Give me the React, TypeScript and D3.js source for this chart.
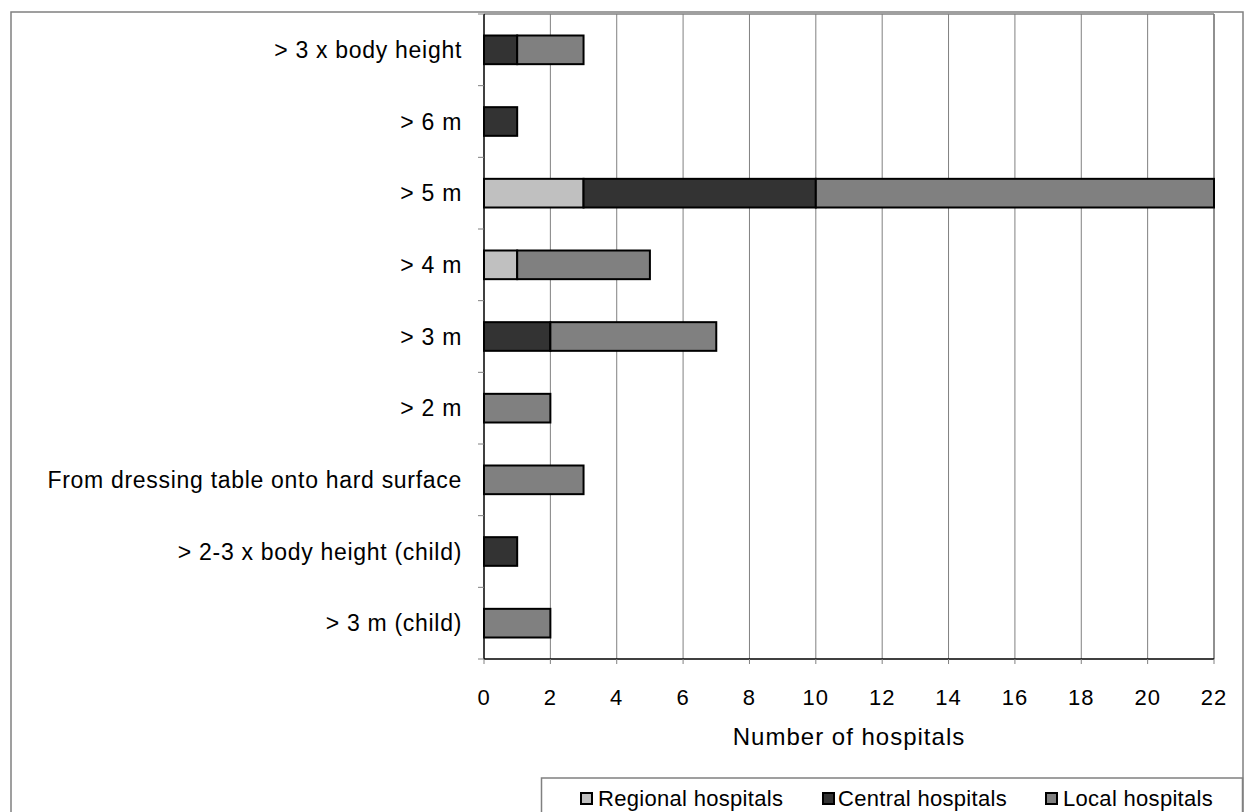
import React from "react";
import * as d3 from "d3";

const categories = [
  "> 3 x body height",
  "> 6 m",
  "> 5 m",
  "> 4 m",
  "> 3 m",
  "> 2 m",
  "From dressing table onto hard surface",
  "> 2-3 x body height (child)",
  "> 3 m (child)",
];
const regional = [0, 0, 3, 1, 0, 0, 0, 0, 0];
const central = [1, 1, 7, 0, 2, 0, 0, 1, 0];
const local = [2, 0, 12, 4, 5, 2, 3, 0, 2];
const seriesNames = ["Regional hospitals", "Central hospitals", "Local hospitals"];
const seriesColors = ["#C0C0C0", "#333333", "#808080"];
const xTicks = [0, 2, 4, 6, 8, 10, 12, 14, 16, 18, 20, 22];
const xTitle = "Number of hospitals";

const W = 1247;
const H = 812;
const plot = { left: 484, right: 1214, top: 14, bottom: 659 };
const FONT = "'Liberation Sans', Arial, sans-serif";

export default function App() {
  const x = d3.scaleLinear().domain([0, 22]).range([plot.left, plot.right]);
  const y = d3
    .scaleBand<string>()
    .domain(categories)
    .range([plot.top, plot.bottom])
    .paddingInner(0.6)
    .paddingOuter(0.3);
  const step = y.step();
  const bandStart = (c: string) => (y(c) as number) - step * 0.3;

  const rows = categories.map((c, i) => ({
    cat: c,
    r: regional[i],
    c: central[i],
    l: local[i],
  }));
  const stack = d3.stack<any>().keys(["r", "c", "l"]);
  const layers = stack(rows);

  const boundaries = d3.range(categories.length + 1).map((i) => plot.top + i * step);

  const legendItems = [
    { sx: 580, tx: 598 },
    { sx: 822, tx: 838 },
    { sx: 1045, tx: 1063 },
  ];

  return (
    <svg
      width={W}
      height={H}
      style={{ position: "absolute", left: 0, top: 0, background: "#fff" }}
      fontFamily={FONT}
    >
      <rect x={0} y={0} width={W} height={H} fill="#fff" />
      {/* outer border */}
      <rect x={11} y={12} width={1232} height={820} fill="none" stroke="#808080" strokeWidth={1.5} />

      {/* gridlines */}
      {xTicks.map((t) =>
        t === 0 ? null : (
          <line key={"g" + t} x1={x(t)} x2={x(t)} y1={plot.top} y2={plot.bottom} stroke="#808080" strokeWidth={1} />
        )
      )}
      {/* plot border top/right */}
      <line x1={plot.left} x2={plot.right} y1={plot.top} y2={plot.top} stroke="#808080" strokeWidth={1.5} />
      <line x1={plot.right} x2={plot.right} y1={plot.top} y2={plot.bottom} stroke="#808080" strokeWidth={1.5} />

      {/* bars */}
      {layers.map((layer, si) =>
        layer.map((d, i) => {
          const w = x(d[1]) - x(d[0]);
          if (w <= 0) return null;
          return (
            <rect
              key={si + "-" + i}
              x={x(d[0])}
              y={y(categories[i]) as number}
              width={w}
              height={y.bandwidth()}
              fill={seriesColors[si]}
              stroke="#000"
              strokeWidth={2}
            />
          );
        })
      )}

      {/* axes */}
      <line x1={plot.left} x2={plot.left} y1={plot.top} y2={plot.bottom} stroke="#000" strokeWidth={1.5} />
      <line x1={plot.left} x2={plot.right} y1={plot.bottom} y2={plot.bottom} stroke="#000" strokeWidth={1.5} />
      {boundaries.map((b, i) => (
        <line key={"yt" + i} x1={plot.left - 6} x2={plot.left} y1={b} y2={b} stroke="#808080" strokeWidth={1} />
      ))}
      {xTicks.map((t) => (
        <line key={"xt" + t} x1={x(t)} x2={x(t)} y1={plot.bottom} y2={plot.bottom + 5} stroke="#808080" strokeWidth={1} />
      ))}

      {/* category labels */}
      {categories.map((c) => (
        <text
          key={c}
          x={462}
          y={bandStart(c) + step / 2}
          dy="0.35em"
          textAnchor="end"
          fontSize={23}
          letterSpacing={0.7}
          fill="#000"
        >
          {c}
        </text>
      ))}

      {/* x tick labels */}
      {xTicks.map((t) => (
        <text key={"xl" + t} x={x(t)} y={705} textAnchor="middle" fontSize={22} letterSpacing={1} fill="#000">
          {t}
        </text>
      ))}
      <text x={(plot.left + plot.right) / 2} y={745} textAnchor="middle" fontSize={24} letterSpacing={1} fill="#000">
        {xTitle}
      </text>

      {/* legend */}
      <rect x={541.5} y={778} width={701} height={60} fill="#fff" stroke="#808080" strokeWidth={1.5} />
      {seriesNames.map((n, i) => (
        <g key={n}>
          <rect x={legendItems[i].sx + 1} y={793} width={11} height={11} fill={seriesColors[i]} stroke="#000" strokeWidth={2} />
          <text x={legendItems[i].tx} y={806} fontSize={22} letterSpacing={0.3} fill="#000">
            {n}
          </text>
        </g>
      ))}
    </svg>
  );
}
